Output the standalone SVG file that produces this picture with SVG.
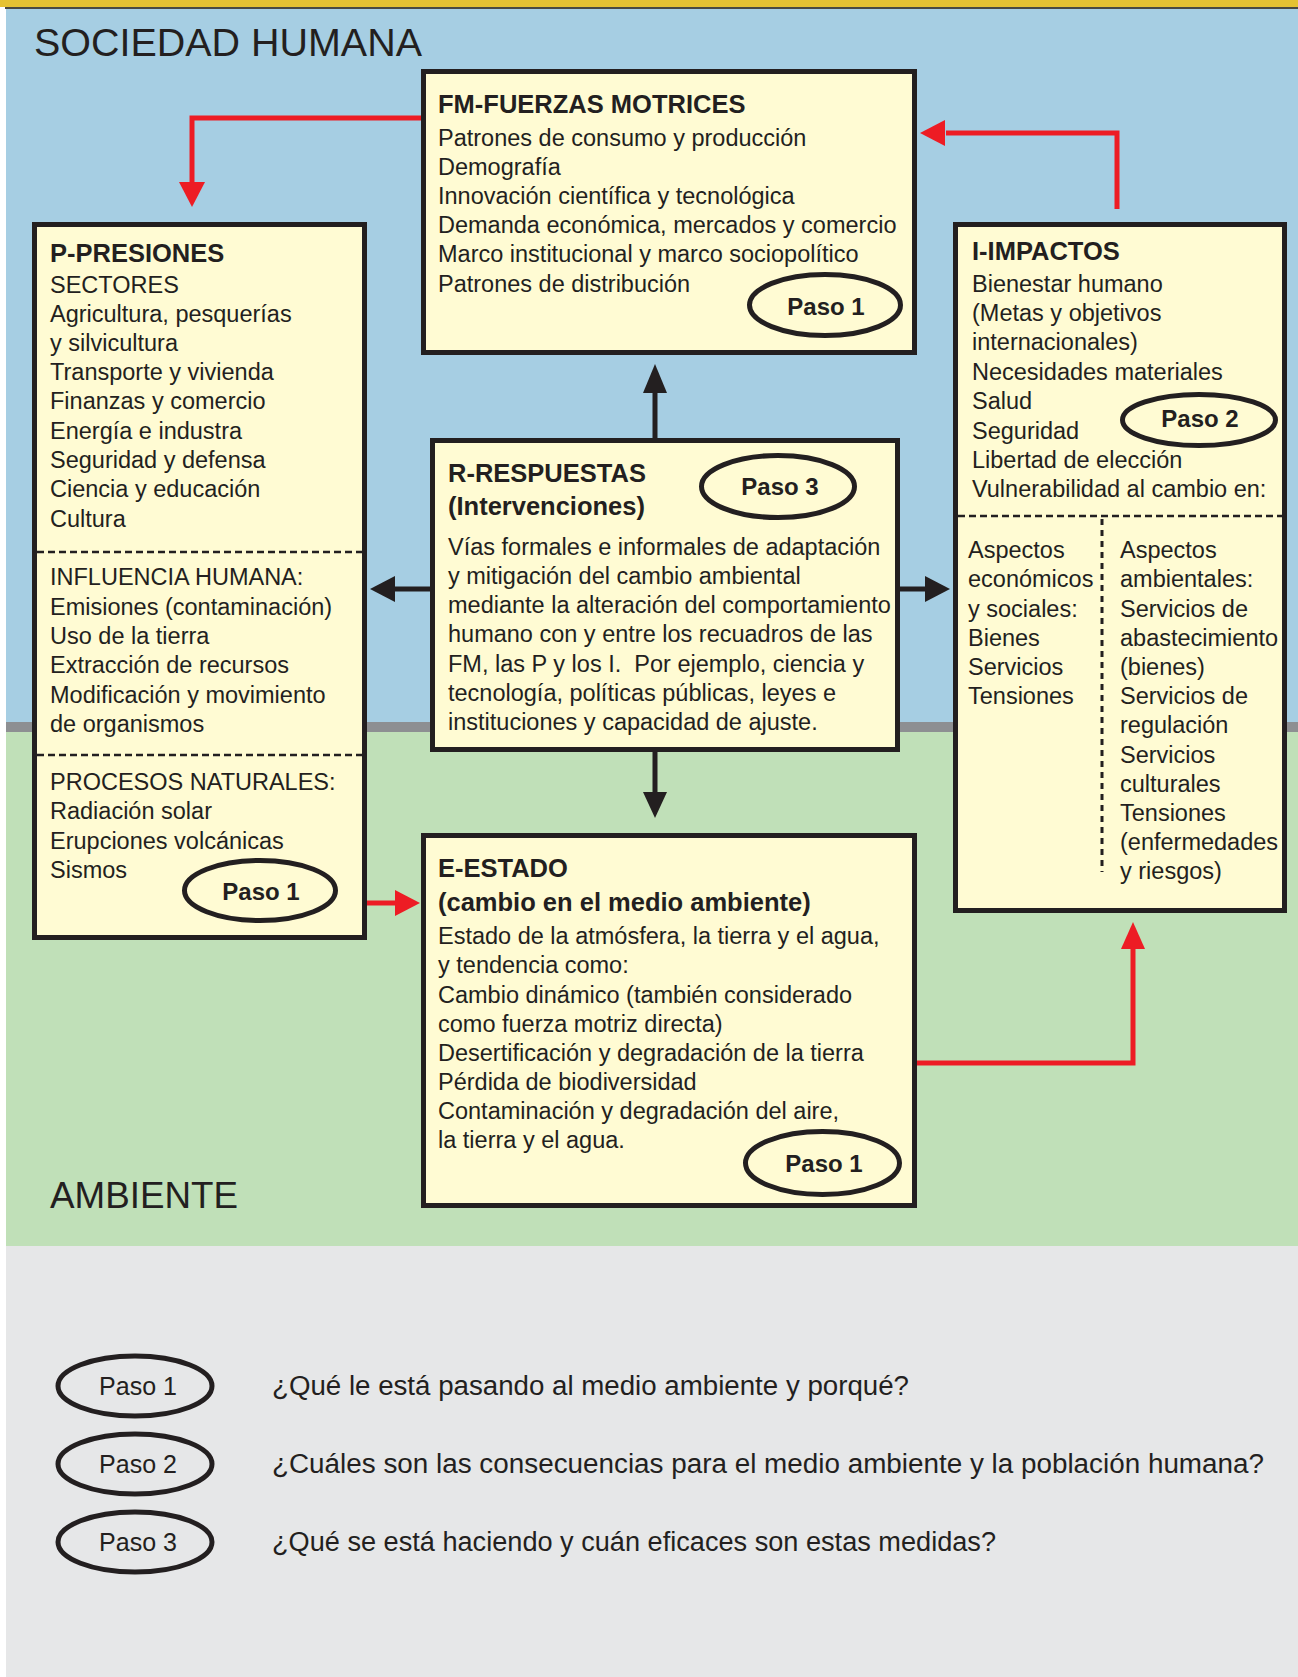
<svg xmlns="http://www.w3.org/2000/svg" width="1298" height="1677" viewBox="0 0 1298 1677">
<style>
text{font-family:"Liberation Sans",Arial,sans-serif;fill:#231F20}
.t{font-size:25.5px;font-weight:bold}
.b{font-size:23.5px}
.p{font-size:24px;font-weight:bold}
.lg{font-size:25px}
.q{font-size:27px}
.box{fill:#FFFBD3;stroke:#231F20;stroke-width:5}
.ov{fill:none;stroke:#231F20;stroke-width:5}
.dash{stroke:#231F20;stroke-width:2.5;stroke-dasharray:7 4;fill:none}
.dot{stroke:#231F20;stroke-width:3;stroke-dasharray:6 5;fill:none}
.rl{fill:none;stroke:#ED1C24;stroke-width:5}
.kl{fill:none;stroke:#231F20;stroke-width:5}
.rh{fill:#ED1C24}
.kh{fill:#231F20}
</style>
<g id="background">
<rect x="0" y="0" width="1298" height="1677" fill="#FFFFFF"/>
<rect x="0" y="0" width="1298" height="7" fill="#E5C232"/>
<rect x="5" y="7" width="1293" height="2" fill="#4A4A42"/>
<rect x="6" y="9" width="1292" height="713" fill="#A6CEE3"/>
<rect x="6" y="722" width="1292" height="10" fill="#8D8F92"/>
<rect x="6" y="732" width="1292" height="514" fill="#C0E0B8"/>
<rect x="6" y="1246" width="1292" height="431" fill="#E6E7E8"/>
<text x="34" y="56" font-size="38" textLength="388" lengthAdjust="spacingAndGlyphs">SOCIEDAD HUMANA</text>
<text x="50" y="1208" font-size="37" textLength="188" lengthAdjust="spacingAndGlyphs">AMBIENTE</text>
</g>
<g id="connectors">
<path class="rl" d="M421,118 H192 V184"/>
<polygon class="rh" points="179,182 205,182 192,207"/>
<path class="rl" d="M1117,209 V133 H946"/>
<polygon class="rh" points="945,120 945,146 920,133"/>
<path class="rl" d="M917,1063 H1133 V948"/>
<polygon class="rh" points="1121,949 1145,949 1133,922"/>
<path class="rl" d="M367,903 H396"/>
<polygon class="rh" points="395,890 395,916 420,903"/>
<path class="kl" d="M655,438 V392"/>
<polygon class="kh" points="643,393 667,393 655,364"/>
<path class="kl" d="M655,752 V793"/>
<polygon class="kh" points="643,792 667,792 655,818"/>
<path class="kl" d="M430,589 H394"/>
<polygon class="kh" points="395,576 395,602 370,589"/>
<path class="kl" d="M900,589 H926"/>
<polygon class="kh" points="925,576 925,602 950,589"/>
</g>
<g id="node-fm">
<rect class="box" x="423.5" y="71.5" width="491" height="281"/>
<text class="t" x="438" y="113">FM-FUERZAS MOTRICES</text>
<text class="b"><tspan x="438" y="146">Patrones de consumo y producción</tspan><tspan x="438" y="175">Demografía</tspan><tspan x="438" y="204">Innovación científica y tecnológica</tspan><tspan x="438" y="233">Demanda económica, mercados y comercio</tspan><tspan x="438" y="262">Marco institucional y marco sociopolítico</tspan><tspan x="438" y="292">Patrones de distribución</tspan></text>
<ellipse class="ov" cx="825" cy="305" rx="75.5" ry="30.5"/>
<text class="p" x="826" y="315" text-anchor="middle">Paso 1</text>
</g>
<g id="node-p">
<rect class="box" x="34.5" y="224.5" width="330" height="713"/>
<text class="t" x="50" y="262">P-PRESIONES</text>
<text class="b"><tspan x="50" y="293">SECTORES</tspan><tspan x="50" y="322">Agricultura, pesquerías</tspan><tspan x="50" y="351">y silvicultura</tspan><tspan x="50" y="380">Transporte y vivienda</tspan><tspan x="50" y="409">Finanzas y comercio</tspan><tspan x="50" y="439">Energía e industra</tspan><tspan x="50" y="468">Seguridad y defensa</tspan><tspan x="50" y="497">Ciencia y educación</tspan><tspan x="50" y="527">Cultura</tspan></text>
<line class="dash" x1="37" y1="552" x2="362" y2="552"/>
<text class="b"><tspan x="50" y="585">INFLUENCIA HUMANA:</tspan><tspan x="50" y="615">Emisiones (contaminación)</tspan><tspan x="50" y="644">Uso de la tierra</tspan><tspan x="50" y="673">Extracción de recursos</tspan><tspan x="50" y="703">Modificación y movimiento</tspan><tspan x="50" y="732">de organismos</tspan></text>
<line class="dash" x1="37" y1="755" x2="362" y2="755"/>
<text class="b"><tspan x="50" y="790">PROCESOS NATURALES:</tspan><tspan x="50" y="819">Radiación solar</tspan><tspan x="50" y="849">Erupciones volcánicas</tspan><tspan x="50" y="878">Sismos</tspan></text>
<ellipse class="ov" cx="260" cy="890.5" rx="75.5" ry="30"/>
<text class="p" x="261" y="900" text-anchor="middle">Paso 1</text>
</g>
<g id="node-r">
<rect class="box" x="432.5" y="440.5" width="465" height="309"/>
<text class="t"><tspan x="448" y="482">R-RESPUESTAS</tspan><tspan x="448" y="515">(Intervenciones)</tspan></text>
<text class="b" style="white-space:pre"><tspan x="448" y="555">Vías formales e informales de adaptación</tspan><tspan x="448" y="584">y mitigación del cambio ambiental</tspan><tspan x="448" y="613">mediante la alteración del comportamiento</tspan><tspan x="448" y="642">humano con y entre los recuadros de las</tspan><tspan x="448" y="672">FM, las P y los I.  Por ejemplo, ciencia y</tspan><tspan x="448" y="701">tecnología, políticas públicas, leyes e</tspan><tspan x="448" y="730">instituciones y capacidad de ajuste.</tspan></text>
<ellipse class="ov" cx="778" cy="486.5" rx="76.5" ry="31"/>
<text class="p" x="780" y="495" text-anchor="middle">Paso 3</text>
</g>
<g id="node-i">
<rect class="box" x="955.5" y="224.5" width="329" height="686"/>
<text class="t" x="972" y="260">I-IMPACTOS</text>
<text class="b"><tspan x="972" y="292">Bienestar humano</tspan><tspan x="972" y="321">(Metas y objetivos</tspan><tspan x="972" y="350">internacionales)</tspan><tspan x="972" y="380">Necesidades materiales</tspan><tspan x="972" y="409">Salud</tspan><tspan x="972" y="439">Seguridad</tspan><tspan x="972" y="468">Libertad de elección</tspan><tspan x="972" y="497">Vulnerabilidad al cambio en:</tspan></text>
<ellipse class="ov" cx="1199" cy="420" rx="76.5" ry="25.5"/>
<text class="p" x="1200" y="427" text-anchor="middle">Paso 2</text>
<line class="dash" x1="958" y1="516" x2="1283" y2="516"/>
<line class="dot" x1="1102" y1="519" x2="1102" y2="872"/>
<text class="b"><tspan x="968" y="558">Aspectos</tspan><tspan x="968" y="587">económicos</tspan><tspan x="968" y="617">y sociales:</tspan><tspan x="968" y="646">Bienes</tspan><tspan x="968" y="675">Servicios</tspan><tspan x="968" y="704">Tensiones</tspan></text>
<text class="b"><tspan x="1120" y="558">Aspectos</tspan><tspan x="1120" y="587">ambientales:</tspan><tspan x="1120" y="617">Servicios de</tspan><tspan x="1120" y="646">abastecimiento</tspan><tspan x="1120" y="675">(bienes)</tspan><tspan x="1120" y="704">Servicios de</tspan><tspan x="1120" y="733">regulación</tspan><tspan x="1120" y="763">Servicios</tspan><tspan x="1120" y="792">culturales</tspan><tspan x="1120" y="821">Tensiones</tspan><tspan x="1120" y="850">(enfermedades</tspan><tspan x="1120" y="879">y riesgos)</tspan></text>
</g>
<g id="node-e">
<rect class="box" x="423.5" y="835.5" width="491" height="370"/>
<text class="t"><tspan x="438" y="877">E-ESTADO</tspan><tspan x="438" y="911">(cambio en el medio ambiente)</tspan></text>
<text class="b"><tspan x="438" y="944">Estado de la atmósfera, la tierra y el agua,</tspan><tspan x="438" y="973">y tendencia como:</tspan><tspan x="438" y="1003">Cambio dinámico (también considerado</tspan><tspan x="438" y="1032">como fuerza motriz directa)</tspan><tspan x="438" y="1061">Desertificación y degradación de la tierra</tspan><tspan x="438" y="1090">Pérdida de biodiversidad</tspan><tspan x="438" y="1119">Contaminación y degradación del aire,</tspan><tspan x="438" y="1148">la tierra y el agua.</tspan></text>
<ellipse class="ov" cx="822.5" cy="1163" rx="77" ry="31.5"/>
<text class="p" x="824" y="1172" text-anchor="middle">Paso 1</text>
</g>
<g id="legend-1">
<ellipse class="ov" cx="135" cy="1386" rx="77" ry="30"/>
<text class="lg" x="138" y="1395" text-anchor="middle">Paso 1</text>
<text class="q" x="272" y="1395" textLength="637" lengthAdjust="spacingAndGlyphs">¿Qué le está pasando al medio ambiente y porqué?</text>
</g>
<g id="legend-2">
<ellipse class="ov" cx="135" cy="1464" rx="77" ry="30"/>
<text class="lg" x="138" y="1473" text-anchor="middle">Paso 2</text>
<text class="q" x="272" y="1473" textLength="992" lengthAdjust="spacingAndGlyphs">¿Cuáles son las consecuencias para el medio ambiente y la población humana?</text>
</g>
<g id="legend-3">
<ellipse class="ov" cx="135" cy="1542" rx="77" ry="30"/>
<text class="lg" x="138" y="1551" text-anchor="middle">Paso 3</text>
<text class="q" x="272" y="1551" textLength="724" lengthAdjust="spacingAndGlyphs">¿Qué se está haciendo y cuán eficaces son estas medidas?</text>
</g>
</svg>
